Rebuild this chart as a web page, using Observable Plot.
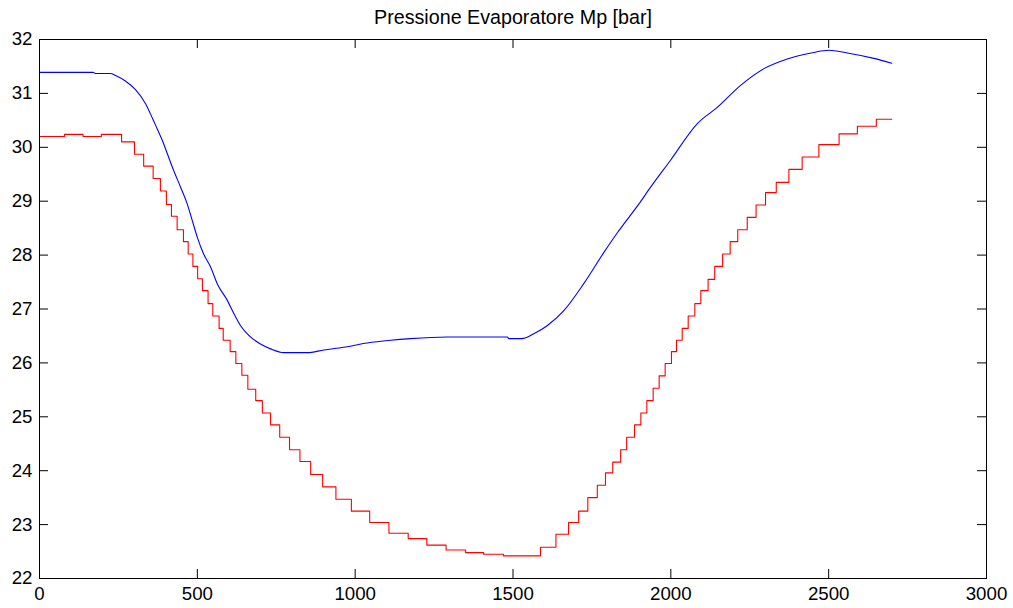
<!DOCTYPE html>
<html>
<head>
<meta charset="utf-8">
<script src="https://cdn.jsdelivr.net/npm/d3@7"></script>
<script src="https://cdn.jsdelivr.net/npm/@observablehq/plot@0.6"></script>
<style>
  html, body { margin: 0; padding: 0; background: #fff; }
  #chart svg { display: block; }
</style>
</head>
<body>
<div id="chart"></div>
<script>
const title = "Pressione Evaporatore Mp [bar]";
const xTicks = [0, 500, 1000, 1500, 2000, 2500, 3000];
const yTicks = [22, 23, 24, 25, 26, 27, 28, 29, 30, 31, 32];

// Blue: smooth measured pressure
const blueT = [0,170,177,225,241,272,304,336,357,373,389,405,425,447,468,484,500,520,542,563,595,616,637,663,700,732,774,848,901,964,1038,1112,1175,1292,1482,1487,1529,1566,1608,1661,1724,1788,1830,1899,1936,1999,2084,2147,2221,2295,2369,2453,2500,2559,2643,2700];
const blueV = [31.39,31.39,31.37,31.37,31.33,31.23,31.07,30.81,30.55,30.34,30.13,29.88,29.57,29.26,28.95,28.64,28.33,28.02,27.78,27.47,27.16,26.91,26.69,26.51,26.35,26.26,26.19,26.19,26.24,26.29,26.37,26.42,26.45,26.48,26.48,26.45,26.45,26.54,26.69,26.97,27.47,28.05,28.41,28.95,29.26,29.76,30.44,30.74,31.15,31.46,31.64,31.76,31.80,31.75,31.65,31.56];

// Red: stepped signal (value held from each time until the next)
const redT = [0,79,138,196,260,301,330,360,383,402,418,436,456,471,486,501,516,534,549,569,582,604,622,641,660,685,706,732,761,792,825,859,897,939,988,1046,1107,1168,1227,1288,1350,1407,1470,1587,1636,1676,1708,1737,1767,1793,1816,1841,1860,1885,1905,1924,1944,1963,1982,2002,2018,2036,2055,2076,2095,2118,2139,2164,2188,2212,2242,2270,2300,2334,2374,2416,2469,2533,2591,2651,2700];
const redV = [30.20,30.24,30.20,30.24,30.10,29.87,29.65,29.42,29.19,28.94,28.72,28.47,28.25,28.02,27.79,27.56,27.34,27.10,26.87,26.64,26.42,26.21,25.99,25.77,25.51,25.30,25.07,24.85,24.62,24.39,24.17,23.93,23.70,23.47,23.25,23.04,22.84,22.74,22.62,22.53,22.48,22.45,22.42,22.58,22.82,23.04,23.25,23.50,23.73,23.96,24.16,24.39,24.62,24.85,25.07,25.30,25.53,25.76,25.99,26.21,26.42,26.64,26.87,27.10,27.34,27.55,27.79,28.02,28.25,28.47,28.70,28.93,29.16,29.35,29.59,29.82,30.05,30.25,30.39,30.52,30.52];

const blue = blueT.map((t, i) => ({t, v: blueV[i]}));
const red = redT.map((t, i) => ({t, v: redV[i]}));

const FONT = "'Liberation Sans', Arial, Helvetica, sans-serif";
const W = 1013, H = 608;
const mL = 39, mR = 27, mT = 39, mB = 30;
const frameW = W - mL - mR, frameH = H - mT - mB;
const tick = 9;

const chart = Plot.plot({
  width: W,
  height: H,
  marginLeft: mL,
  marginRight: mR,
  marginTop: mT,
  marginBottom: mB,
  style: {fontFamily: FONT, fontSize: "18.7px", color: "black", background: "white"},
  x: {domain: [0, 3000]},
  y: {domain: [22, 32]},
  marks: [
    Plot.axisX(xTicks, {tickSize: 0, tickPadding: 8, label: null, fontSize: 18.7, tickFormat: d => String(d)}),
    Plot.axisY(yTicks, {tickSize: 0, tickPadding: 7, label: null, fontSize: 18.7, tickFormat: d => String(d)}),
    // inward ticks on all four sides
    Plot.tickX(xTicks, {x: d => d, insetTop: frameH - tick, stroke: "black"}),
    Plot.tickX(xTicks, {x: d => d, insetBottom: frameH - tick, stroke: "black"}),
    Plot.tickY(yTicks, {y: d => d, insetRight: frameW - tick, stroke: "black"}),
    Plot.tickY(yTicks, {y: d => d, insetLeft: frameW - tick, stroke: "black"}),
    Plot.line(blue, {x: "t", y: "v", stroke: "#0000ff", strokeWidth: 1.1, curve: "monotone-x"}),
    Plot.line(red, {x: "t", y: "v", stroke: "#ff0000", strokeWidth: 1.1, curve: "step-after"}),
    Plot.frame({stroke: "black", strokeWidth: 1}),
    Plot.text([title], {frameAnchor: "top", dy: -16, lineAnchor: "bottom", fontSize: 19.7, fill: "black", text: d => d})
  ]
});
document.getElementById("chart").appendChild(chart);
</script>
</body>
</html>
